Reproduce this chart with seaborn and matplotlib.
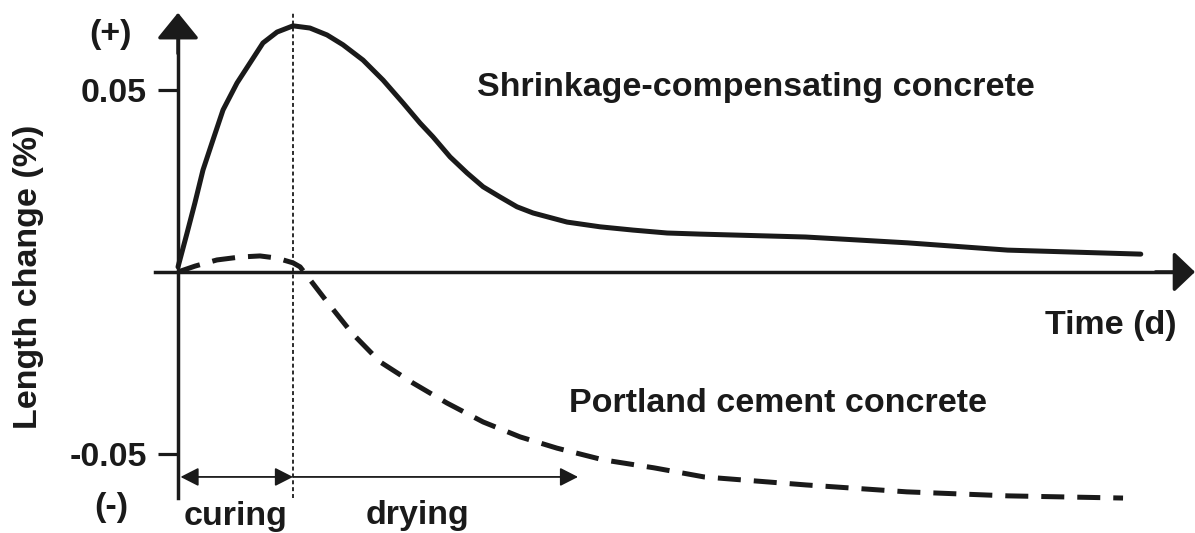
import numpy as np
import pandas as pd
import matplotlib
matplotlib.use("Agg")
import matplotlib.pyplot as plt
import seaborn as sns

# length change curves (time in days, length change in %)
time_sc = [0, 0.55, 1.03, 1.52, 2.13, 2.74, 3.59, 4.38, 5.17, 6.03, 7.0, 8.03,
           9.07, 10.04, 11.26, 12.48, 13.70, 14.73, 15.52, 16.56, 17.59, 18.57,
           19.60, 20.63, 21.61, 23.68, 25.69, 27.70, 29.77, 31.77, 38.2, 44.4,
           50.5, 58.6]
length_sc = [0.0014, 0.0107, 0.0190, 0.0280, 0.0363, 0.0445, 0.0519, 0.0574,
             0.0629, 0.0659, 0.0676, 0.0670, 0.0651, 0.0624, 0.0582, 0.0527,
             0.0464, 0.0409, 0.0371, 0.0316, 0.0272, 0.0234, 0.0206, 0.0179,
             0.0162, 0.0137, 0.0124, 0.0115, 0.0107, 0.0104, 0.0096, 0.0080,
             0.0060, 0.0049]

time_pc = [0, 1.03, 2.37, 3.77, 4.99, 6.03, 7.0, 7.43, 7.91, 9.07, 10.59, 12.30,
           14.30, 16.37, 18.57, 20.82, 23.07, 25.87, 28.97, 32.02, 38.23, 44.37,
           50.52, 57.52]
length_pc = [0.0, 0.0016, 0.0033, 0.0041, 0.0044, 0.0038, 0.0025, 0.0014,
             -0.0014, -0.0082, -0.0168, -0.0247, -0.0305, -0.0360, -0.0412,
             -0.0453, -0.0484, -0.0516, -0.0538, -0.0563, -0.0585, -0.0604,
             -0.0615, -0.0621]

series_names = ["Shrinkage-compensating concrete", "Portland cement concrete"]
y_ticks = [-0.05, 0.05]
y_tick_labels = ["-0.05", "0.05"]
curing_end = 7.0
drying_end = 24.35

df = pd.concat([
    pd.DataFrame({"time": time_sc, "length": length_sc, "series": series_names[0]}),
    pd.DataFrame({"time": time_pc, "length": length_pc, "series": series_names[1]}),
])

sns.set_theme(style="white")
plt.rcParams["font.family"] = ["Liberation Sans", "DejaVu Sans"]
plt.rcParams["font.weight"] = "bold"

INK = "#1a1a1a"
FS = 24.5

fig = plt.figure(figsize=(11.95, 5.33), dpi=100)
ax = fig.add_axes([0, 0, 1, 1])

sns.lineplot(data=df, x="time", y="length", style="series",
             dashes={series_names[0]: "", series_names[1]: (4.6, 2.6)},
             color=INK, linewidth=3.6, legend=False, ax=ax)
for line in ax.lines:
    line.set_solid_joinstyle("round")
    line.set_dash_joinstyle("round")

ax.set_xlim(-10.835, 61.90)
ax.set_ylim(-0.0717, 0.0747)

# axes through the origin
for side in ["top", "right"]:
    ax.spines[side].set_visible(False)
ax.spines["left"].set_position(("data", 0))
ax.spines["bottom"].set_position(("data", 0))
ax.spines["left"].set_bounds(-0.0621, 0.065)
ax.spines["bottom"].set_bounds(-1.4, 60.9)
for side in ["left", "bottom"]:
    ax.spines[side].set_color(INK)
    ax.spines[side].set_linewidth(2.5)

ax.set_xticks([])
ax.set_yticks(y_ticks)
ax.set_yticklabels(y_tick_labels, fontsize=FS, fontweight="bold", color=INK)
ax.tick_params(axis="y", direction="out", length=14.4, width=2.3, pad=8,
               color=INK, left=True)
ax.set_xlabel("")
ax.set_ylabel("")

head = dict(color=INK, lw=2.5, shrinkA=0, shrinkB=0, mutation_scale=20)
ax.annotate("", xy=(0, 0.0712), xytext=(0, 0.06),
            arrowprops=dict(arrowstyle="-|>,head_length=0.8,head_width=0.65", **head))
ax.annotate("", xy=(61.9, 0), xytext=(59.5, 0),
            arrowprops=dict(arrowstyle="-|>,head_length=0.65,head_width=0.62", **head))

# curing / drying boundary
ax.plot([curing_end, curing_end], [-0.0621, 0.0712], color=INK, lw=1.3,
        dashes=(2.2, 1.6))

thin = dict(color=INK, lw=1.3, shrinkA=0, shrinkB=0, mutation_scale=20)
ax.annotate("", xy=(curing_end, -0.0563), xytext=(0.15, -0.0563),
            arrowprops=dict(arrowstyle="<|-|>,head_length=0.55,head_width=0.28", **thin))
ax.annotate("", xy=(drying_end, -0.0563), xytext=(curing_end, -0.0563),
            arrowprops=dict(arrowstyle="-|>,head_length=0.55,head_width=0.28", **thin))

txt = dict(fontsize=FS, fontweight="bold", color=INK, ha="center", va="center")
ax.text(-4.08, 0.0652, "(+)", **txt)
ax.text(-4.08, -0.0648, "(-)", **txt)
ax.text(35.2, 0.0508, series_names[0], **txt)
ax.text(36.5, -0.036, series_names[1], **txt)
ax.text(56.8, -0.0146, "Time (d)", **txt)
ax.text(3.53, -0.0671, "curing", **txt)
ax.text(14.55, -0.0668, "drying", **txt)
ax.text(-9.13, -0.0014, "Length change (%)", rotation=90, **txt)

fig.savefig("out.png", dpi=100, facecolor="white")
